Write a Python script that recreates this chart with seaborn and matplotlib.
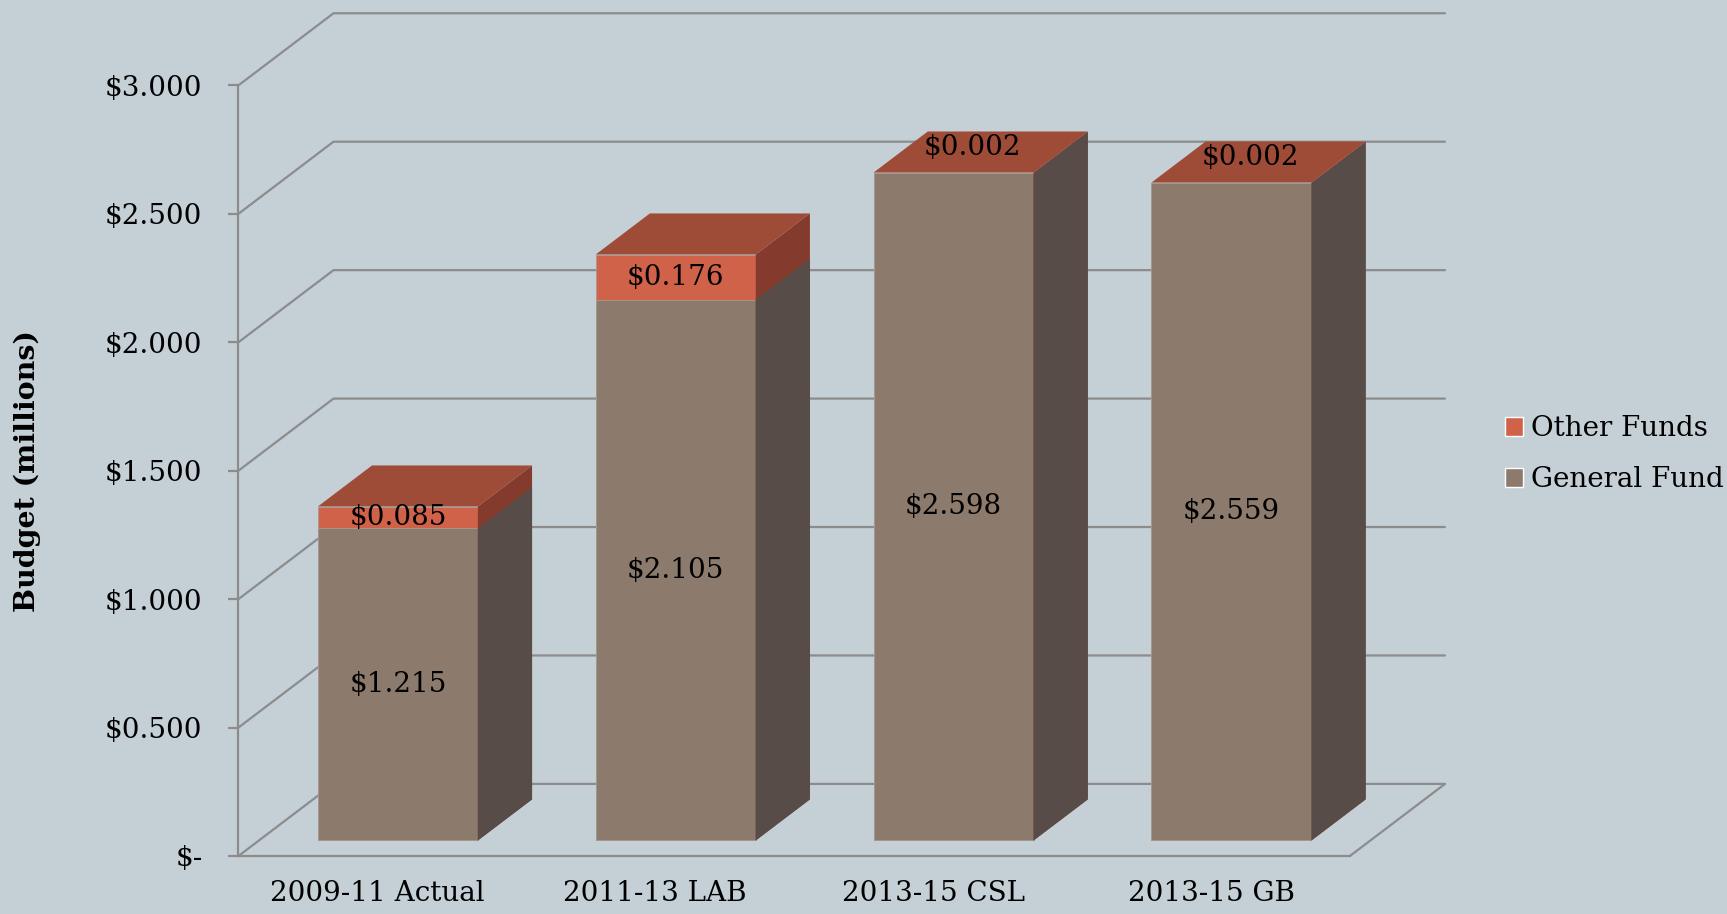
import matplotlib
matplotlib.use("Agg")
import matplotlib.pyplot as plt
from matplotlib.patches import Polygon, Patch
import pandas as pd
import seaborn as sns

# ---------------------------------------------
# DATA
# ---------------------------------------------
categories = ["2009-11 Actual", "2011-13 LAB", "2013-15 CSL", "2013-15 GB"]
general_fund = [1.215, 2.105, 2.598, 2.559]
other_funds = [0.085, 0.176, 0.002, 0.002]
y_ticks = [0.0, 0.5, 1.0, 1.5, 2.0, 2.5, 3.0]

df = pd.DataFrame({"period": categories, "general": general_fund, "other": other_funds})
df["total"] = df["general"] + df["other"]

# ---------------------------------------------
# STYLE
# ---------------------------------------------
BG = "#C5D0D6"
GRID = "#8C8C8C"
GF_FRONT, GF_SIDE = "#8C7B6D", "#574C47"
OF_FRONT, OF_TOP, OF_SIDE = "#D1624A", "#9E4C37", "#843B2D"

# fake 3d box: depth vector in data units, bars sit part way into it
DX, DY = 0.342, 0.2805
T_FRONT, T_DEPTH = 0.215, 0.57
FX, FY = -T_FRONT * DX, -T_FRONT * DY
BX, BY = T_DEPTH * DX, T_DEPTH * DY
BAR_W = 0.576
FS = 20

sns.set_theme(style="white")
plt.rcParams["font.family"] = ["DejaVu Serif"]

fig = plt.figure(figsize=(17.27, 9.14), dpi=100, facecolor=BG)
ax = fig.add_axes([0.1381, 0.0635, 0.6986, 0.922])
ax.set_facecolor(BG)

x0 = -0.5 + FX
x1 = x0 + len(categories)

# walls / gridlines
for v in y_ticks:
    yv = v + FY
    ax.plot([x0, x0 + DX, x1 + DX], [yv, yv + DY, yv + DY], color=GRID, lw=1.6,
            zorder=0, clip_on=False, solid_joinstyle="miter")
ax.plot([x1, x1 + DX], [FY, FY + DY], color=GRID, lw=1.6, zorder=0, clip_on=False)

# front faces, stacked by overdrawing the total
sns.barplot(data=df, x="period", y="total", color=OF_FRONT, saturation=1,
            width=BAR_W, ax=ax, zorder=2, edgecolor="#A59A92", linewidth=0.6)
sns.barplot(data=df, x="period", y="general", color=GF_FRONT, saturation=1,
            width=BAR_W, ax=ax, zorder=2, edgecolor="#A59A92", linewidth=0.6)

n = len(categories)
total_bars = ax.patches[:n]
gf_bars = ax.patches[n:2 * n]

def side(p, color):
    x, w, h = p.get_x(), p.get_width(), p.get_height()
    pts = [(x + w, 0), (x + w + BX, BY), (x + w + BX, h + BY), (x + w, h)]
    ax.add_patch(Polygon(pts, closed=True, facecolor=color, edgecolor="none", zorder=2))

def top(p, color):
    x, w, h = p.get_x(), p.get_width(), p.get_height()
    pts = [(x, h), (x + BX, h + BY), (x + w + BX, h + BY), (x + w, h)]
    ax.add_patch(Polygon(pts, closed=True, facecolor=color, edgecolor="none", zorder=2))

for p in total_bars:
    side(p, OF_SIDE)
    top(p, OF_TOP)
for p in gf_bars:
    side(p, GF_SIDE)

# data labels
for i, (pt, pg) in enumerate(zip(total_bars, gf_bars)):
    cx = pt.get_x() + pt.get_width() / 2
    ax.text(cx, general_fund[i] / 2, f"${general_fund[i]:.3f}", ha="center", va="center",
            fontsize=FS, color="black", zorder=3)
    if other_funds[i] > 0.05:
        ax.text(cx, general_fund[i] + other_funds[i] / 2, f"${other_funds[i]:.3f}",
                ha="center", va="center", fontsize=FS, color="black", zorder=3)
    else:
        ax.text(cx + 0.35 * BX, df["total"][i] + 0.6 * BY, f"${other_funds[i]:.3f}",
                ha="center", va="center", fontsize=FS, color="black", zorder=3)

# axes
ax.set_xlim(x0, x1 + DX)
ax.set_ylim(FY, y_ticks[-1] + FY + DY)
ax.set_xticks([i + FX for i in range(n)])
ax.set_xticklabels(categories)
ax.set_yticks([v + FY for v in y_ticks])
ax.set_yticklabels(["$-" if v == 0 else f"${v:.3f}" for v in y_ticks])
ax.set_xlabel("")
ax.set_ylabel("")
ax.tick_params(axis="y", length=7, width=1.6, color=GRID, pad=19, labelsize=FS,
               labelcolor="black", left=True)
ax.tick_params(axis="x", length=0, pad=17, labelsize=FS, labelcolor="black")

for s in ["top", "right"]:
    ax.spines[s].set_visible(False)
for s in ["left", "bottom"]:
    ax.spines[s].set_color(GRID)
    ax.spines[s].set_linewidth(1.6)
ax.spines["left"].set_bounds(FY, y_ticks[-1] + FY)
ax.spines["bottom"].set_bounds(x0, x1)

fig.text(0.016, 0.485, "Budget (millions)", rotation=90, ha="center", va="center",
         fontsize=20.5, fontweight="bold", color="black")

handles = [Patch(facecolor=OF_FRONT, label="Other Funds"),
           Patch(facecolor=GF_FRONT, label="General Fund")]
fig.legend(handles=handles, loc="center left", bbox_to_anchor=(0.857, 0.503),
           frameon=False, fontsize=FS, handlelength=0.65, handleheight=0.65,
           handletextpad=0.3, labelspacing=0.85, labelcolor="black")

fig.savefig("out.png", dpi=100, facecolor=BG)
